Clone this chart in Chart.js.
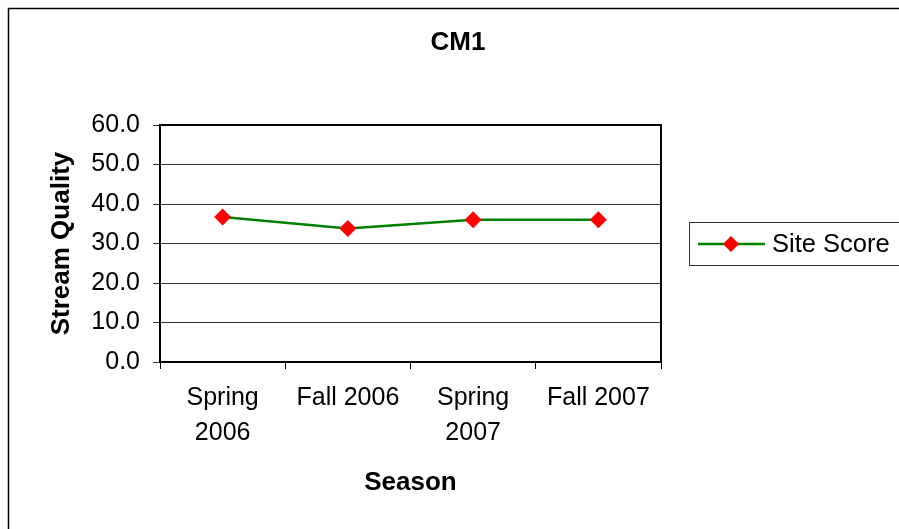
<!DOCTYPE html>
<html>
<head>
<meta charset="utf-8">
<script src="https://cdn.jsdelivr.net/npm/chart.js@4"></script>
<style>
body{margin:0;background:#fff;}
canvas{display:block;}
</style>
</head>
<body>
<canvas id="grafico" width="899" height="529"></canvas>
<script>

// data
const seasons = [["Spring","2006"], "Fall 2006", ["Spring","2007"], "Fall 2007"];
const siteScore = [36.7, 33.8, 36.0, 36.0];
const seriesName = "Site Score";
const chartTitle = "CM1";
const yTitle = "Stream Quality";
const xTitle = "Season";
const yMin = 0, yMax = 60, yStep = 10;

const FONT = "'Liberation Sans', Arial, sans-serif";
const GREEN = "#008000";
const RED = "#ff0000";

// outer frame, title, plot border and legend box
const extras = {
  id: "extras",
  beforeDraw(chart){
    const ctx = chart.ctx;
    ctx.save();
    ctx.fillStyle = "#fff";
    ctx.fillRect(0,0,chart.width,chart.height);
    ctx.strokeStyle = "#000";
    ctx.lineWidth = 1.5;
    ctx.beginPath();
    ctx.moveTo(8.5, chart.height);
    ctx.lineTo(8.5, 8.5);
    ctx.lineTo(chart.width, 8.5);
    ctx.stroke();

    ctx.fillStyle = "#000";
    ctx.font = "bold 26px " + FONT;
    ctx.textAlign = "center";
    ctx.textBaseline = "middle";
    ctx.fillText(chartTitle, 458, 43);
    ctx.restore();
  },
  beforeDatasetsDraw(chart){
    const {ctx, chartArea:a} = chart;
    ctx.save();
    ctx.strokeStyle = "#000";
    ctx.lineWidth = 2;
    ctx.strokeRect(a.left, a.top, a.right - a.left, a.bottom - a.top);
    ctx.restore();
  },
  afterDraw(chart){
    const ctx = chart.ctx;
    const ds = chart.data.datasets[0];
    ctx.save();
    ctx.strokeStyle = "#333";
    ctx.lineWidth = 1;
    ctx.strokeRect(689.5, 222.5, 230, 43);

    ctx.strokeStyle = GREEN;
    ctx.lineWidth = 2.5;
    ctx.beginPath();
    ctx.moveTo(698, 244);
    ctx.lineTo(765, 244);
    ctx.stroke();

    ctx.fillStyle = RED;
    ctx.beginPath();
    ctx.moveTo(731, 236);
    ctx.lineTo(739, 244);
    ctx.lineTo(731, 252);
    ctx.lineTo(723, 244);
    ctx.closePath();
    ctx.fill();

    ctx.fillStyle = "#000";
    ctx.font = "25.5px " + FONT;
    ctx.textAlign = "left";
    ctx.textBaseline = "middle";
    ctx.fillText(ds.label, 772, 245);
    ctx.restore();
  }
};

new Chart(
document.getElementById("grafico"),
{
type:"line",
data:{
  labels: seasons,
  datasets:[{
    label: seriesName,
    data: siteScore,
    borderColor: GREEN,
    borderWidth: 2.5,
    tension: 0,
    pointStyle: "rectRot",
    pointRadius: 8.5,
    pointHoverRadius: 8.5,
    pointBackgroundColor: RED,
    pointBorderColor: RED,
    pointBorderWidth: 0
  }]
},
options:{
  responsive:false,
  animation:false,
  layout:{
    padding:{left:0, right:238, top:125, bottom:0}
  },
  plugins:{
    legend:{display:false},
    title:{display:false},
    tooltip:{enabled:false}
  },
  scales:{
    x:{
      offset:true,
      grid:{
        offset:true,
        drawOnChartArea:false,
        color:"#000",
        tickLength:7,
        lineWidth:1
      },
      border:{color:"#000", width:2},
      ticks:{
        color:"#000",
        padding:12,
        maxRotation:0,
        autoSkip:false,
        font:{family:FONT, size:25, lineHeight:1.4}
      },
      title:{
        display:true,
        text:xTitle,
        color:"#000",
        font:{family:FONT, size:26, weight:"bold", lineHeight:1.2},
        padding:{top:0, bottom:31}
      },
      afterFit(scale){ scale.height = 167; }
    },
    y:{
      min:yMin,
      max:yMax,
      grid:{
        color:"#333",
        lineWidth:1,
        tickLength:7
      },
      border:{color:"#000", width:2},
      ticks:{
        stepSize:yStep,
        color:"#000",
        padding:13,
        font:{family:FONT, size:25},
        callback:v => v.toFixed(1)
      },
      title:{
        display:true,
        text:yTitle,
        color:"#000",
        font:{family:FONT, size:26, weight:"bold", lineHeight:1.2},
        padding:{top:46, bottom:0}
      },
      afterFit(scale){ scale.width = 160; }
    }
  }
},
plugins:[extras]
}
);

</script>
</body>
</html>
